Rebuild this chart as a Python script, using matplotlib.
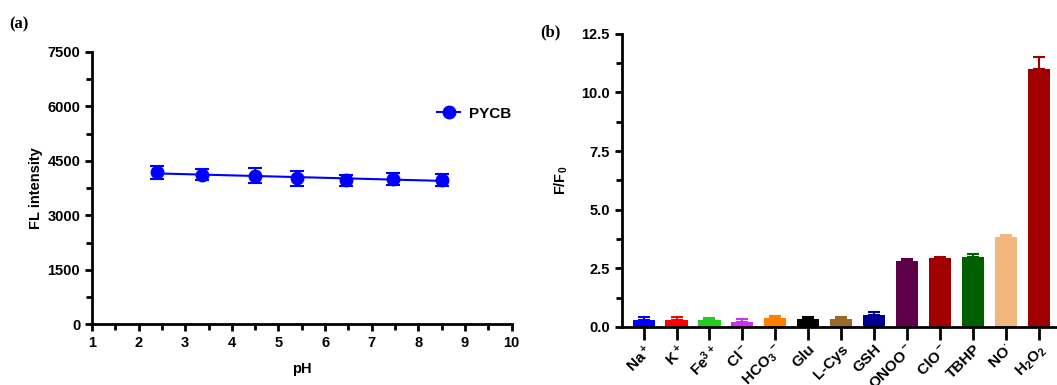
import numpy as np
import matplotlib
matplotlib.use("Agg")
import matplotlib.pyplot as plt

plt.rcParams['font.family'] = ['Liberation Sans', 'DejaVu Sans']
plt.rcParams['font.weight'] = 'bold'
plt.rcParams['mathtext.default'] = 'regular'

# panel (a): pH stability
ph = [2.4, 3.35, 4.5, 5.4, 6.45, 7.45, 8.5]
fl = [4180, 4120, 4090, 4020, 3970, 4000, 3980]
fl_err = [180, 150, 200, 200, 150, 170, 170]

# panel (b): selectivity
species = [r'Na$^+$', r'K$^+$', r'Fe$^{3+}$', r'Cl$^-$', r'HCO$_3$$^-$', 'Glu', 'L-Cys',
           'GSH', r'ONOO$^-$', r'ClO$^-$', 'TBHP', r'NO$^{·}$', r'H$_2$O$_2$']
ratio = [0.30, 0.30, 0.28, 0.22, 0.38, 0.32, 0.35, 0.50, 2.83, 2.92, 3.00, 3.85, 11.0]
ratio_err = [0.10, 0.12, 0.08, 0.10, 0.10, 0.08, 0.06, 0.12, 0.05, 0.08, 0.10, 0.08, 0.50]
bar_colors = ['#0000ff', '#ff0000', '#22cc22', '#cc33ee', '#ff8000', '#000000', '#9a6a2a',
              '#000090', '#5c0048', '#a00000', '#006000', '#f2b77e', '#a00000']

fig = plt.figure(figsize=(10.57, 3.85), dpi=100)


def style(ax):
    for s in ('top', 'right'):
        ax.spines[s].set_visible(False)
    for s in ('left', 'bottom'):
        ax.spines[s].set_linewidth(2)
    ax.tick_params(which='major', width=2, length=5, labelsize=10.5)
    ax.tick_params(which='minor', width=2, length=4)
    for lab in ax.get_xticklabels() + ax.get_yticklabels():
        lab.set_fontweight('bold')


ax1 = fig.add_axes([0.087, 0.158, 0.397, 0.707])
ax1.errorbar(ph, fl, yerr=fl_err, fmt='o', color='#0000ff', ms=9, capsize=5,
             elinewidth=1.5, capthick=1.5)
k, b = np.polyfit(ph, fl, 1)
ax1.plot([ph[0], ph[-1]], [k * ph[0] + b, k * ph[-1] + b], color='#0000ff', lw=1.5)
ax1.plot([], [], '-o', color='#0000ff', ms=9, lw=1.5, label='PYCB')
ax1.set_xlim(1, 10)
ax1.set_ylim(0, 7500)
ax1.set_xticks(range(1, 11))
ax1.set_xticks(np.arange(1.5, 10, 1), minor=True)
ax1.set_yticks(range(0, 7501, 1500))
ax1.set_yticks(range(750, 7500, 1500), minor=True)
ax1.set_xlabel('pH', fontsize=10.5, fontweight='bold', labelpad=9)
ax1.set_ylabel('FL intensity', fontsize=10.5, fontweight='bold', labelpad=3)
style(ax1)
ax1.legend(loc='upper left', bbox_to_anchor=(0.79, 0.85), frameon=False,
           handlelength=1.5, handletextpad=0.6, prop={'weight': 'bold', 'size': 11})

ax2 = fig.add_axes([0.588, 0.151, 0.412, 0.761])
x = np.arange(len(species))
ax2.bar(x, ratio, width=0.67, color=bar_colors)
for xi, v, e, c in zip(x, ratio, ratio_err, bar_colors):
    ax2.errorbar(xi, v, yerr=[[0], [e]], color=c, capsize=4, elinewidth=1.5, capthick=1.5)
ax2.set_xlim(-0.67, 12.55)
ax2.set_ylim(0, 12.5)
ax2.set_yticks(np.arange(0, 12.51, 2.5))
ax2.set_yticks(np.arange(1.25, 12.5, 2.5), minor=True)
ax2.yaxis.set_major_formatter(matplotlib.ticker.FormatStrFormatter('%.1f'))
ax2.set_xticks(x)
ax2.set_xticklabels(species, rotation=45, ha='right', rotation_mode='anchor')
ax2.set_ylabel(r'F/F$_0$', fontsize=10.5, fontweight='bold', labelpad=8)
style(ax2)
ax2.tick_params(axis='x', which='major', length=9, pad=2, labelsize=11)

fig.text(0.009, 0.925, '(a)', family='Liberation Serif', fontsize=12, fontweight='bold')
fig.text(0.511, 0.905, '(b)', family='Liberation Serif', fontsize=12, fontweight='bold')

fig.savefig('out.png', dpi=100)
